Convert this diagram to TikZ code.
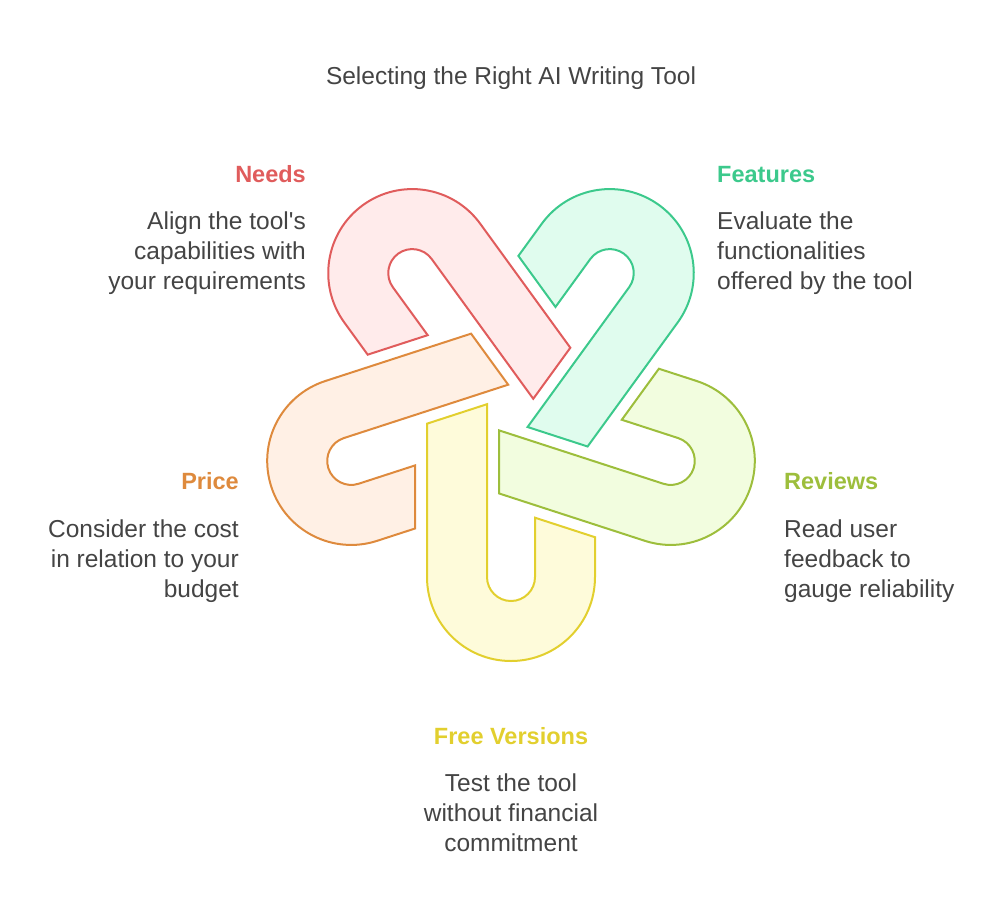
\documentclass[tikz,border=0pt]{standalone}
\usepackage{fontspec}
\setmainfont{Liberation Sans}[Ligatures = TeXOff]
\usetikzlibrary{positioning}

\definecolor{inkgray}{HTML}{444444}
\definecolor{needln}{HTML}{E05C5C}
\definecolor{needbg}{HTML}{FFEBEB}
\definecolor{featln}{HTML}{3CC98C}
\definecolor{featbg}{HTML}{E0FCEE}
\definecolor{revln}{HTML}{9DBE3C}
\definecolor{revbg}{HTML}{F2FDDF}
\definecolor{freeln}{HTML}{E2CF2E}
\definecolor{freebg}{HTML}{FEFBDA}
\definecolor{priceln}{HTML}{DE8A3D}
\definecolor{pricebg}{HTML}{FFF0E5}

\begin{document}
\begin{tikzpicture}[
        x = 1pt, y = -1pt,
        hook/.style = {line width = 2pt, line join = miter},
        title/.style = {font = \fontsize{24.5}{28}\selectfont, text = inkgray, inner sep = 0pt},
        head/.style = {font = \fontsize{23.5}{28}\selectfont\bfseries, inner sep = 0pt},
        body/.style = {font = \fontsize{24.5}{30}\selectfont, text = inkgray, inner sep = 0pt}
    ]

    \useasboundingbox (0,0) rectangle (993,918);

    % five interlocking hooks
    \foreach \ang/\tag in {0/free, 72/rev, 144/feat, 216/need, 288/price} {
        \begin{scope}[shift = {(511,409)}, y = 1pt, rotate = \ang]
            \draw[hook, draw = \tag ln, fill = \tag bg]
                (-84,-14.68) -- (-84,-168) arc[start angle = 180, end angle = 360, radius = 84]
                -- (84,-128.2) -- (24,-108.7) -- (24,-168)
                arc[start angle = 0, end angle = -180, radius = 24]
                -- (-24,4.82) -- cycle;
        \end{scope}
    }

    \node[title, anchor = base] (title) at (511,84) {Selecting the Right AI Writing Tool};

    % texts: a body's base anchor sits on its last line
    \node[head, text = needln, anchor = base east] (needs) at (306,182) {Needs};
    \node[body, anchor = base east, align = right] (needstxt) at (306,289)
        {Align the tool's\\capabilities with\\your requirements};

    \node[head, text = featln, anchor = base west] (feat) at (717,182) {Features};
    \node[body, anchor = base west, align = left] (feattxt) at (717,289)
        {Evaluate the\\functionalities\\offered by the tool};

    \node[head, text = priceln, anchor = base east] (price) at (239,489) {Price};
    \node[body, anchor = base east, align = right] (pricetxt) at (239,597)
        {Consider the cost\\in relation to your\\budget};

    \node[head, text = revln, anchor = base west] (rev) at (784,489) {Reviews};
    \node[body, anchor = base west, align = left] (revtxt) at (784,597)
        {Read user\\feedback to\\gauge reliability};

    \node[head, text = freeln, anchor = base] (free) at (511,744) {Free Versions};
    \node[body, anchor = base, align = center] (freetxt) at (511,851)
        {Test the tool\\without financial\\commitment};

\end{tikzpicture}
\end{document}
